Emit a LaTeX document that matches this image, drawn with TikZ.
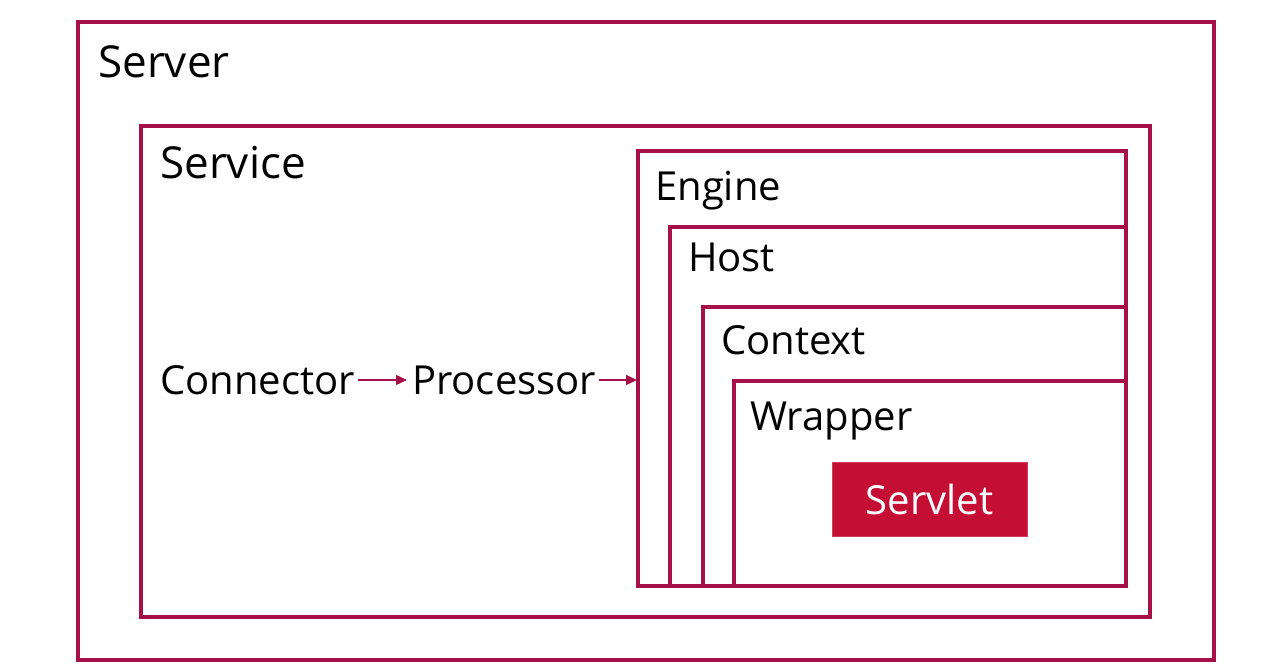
\documentclass[tikz,border=0pt]{standalone}
\usepackage{fontspec}
\setmainfont{Open Sans}
\usetikzlibrary{arrows.meta}
\definecolor{frame}{RGB}{165,16,72}
\definecolor{servletred}{RGB}{196,14,52}
\begin{document}
\begin{tikzpicture}[x=1pt,y=-1pt,
  box/.style={draw=frame,line width=3.2pt},
  lbl/.style={anchor=base west,inner sep=0pt,font=\fontsize{40}{48}\selectfont,text=black},
  biglbl/.style={lbl,font=\fontsize{44}{52}\selectfont},
  flow/.style={draw=frame,line width=1.3pt,-{Triangle[length=11pt,width=10pt]}}]
\useasboundingbox (0,0) rectangle (1269,665);
\draw[box] (78,22) rectangle (1214,660);
\draw[box] (141,126) rectangle (1150,617);
\draw[box] (638,151) rectangle (1126,586);
\draw[box] (670,227) rectangle (1126,586);
\draw[box] (703,307) rectangle (1126,586);
\draw[box] (734,381) rectangle (1126,586);
\node[biglbl] (server) at (98,77) {Server};
\node[biglbl] (service) at (160,178) {Service};
\node[lbl] (engine) at (655,200) {Engine};
\node[lbl] (host) at (688,271) {Host};
\node[lbl] (context) at (721,354) {Context};
\node[lbl] (wrapper) at (750,430) {Wrapper};
\node[lbl] (connector) at (160,394) {Connector};
\node[lbl] (processor) at (412,394) {Processor};
\coordinate (engL) at (637,380);
\node[fill=servletred,draw=servletred!80!white,line width=0.8pt,minimum width=195pt,minimum height=74pt,inner sep=0pt,text=white,font=\fontsize{40}{48}\selectfont] (servlet) at (929.5,499) {Servlet};
\draw[flow] (connector.east|-0,380) ++(3,0) -- ([xshift=-5pt]processor.west|-0,380);
\draw[flow] (processor.east|-0,380) ++(3,0) -- (engL);
\end{tikzpicture}
\end{document}
